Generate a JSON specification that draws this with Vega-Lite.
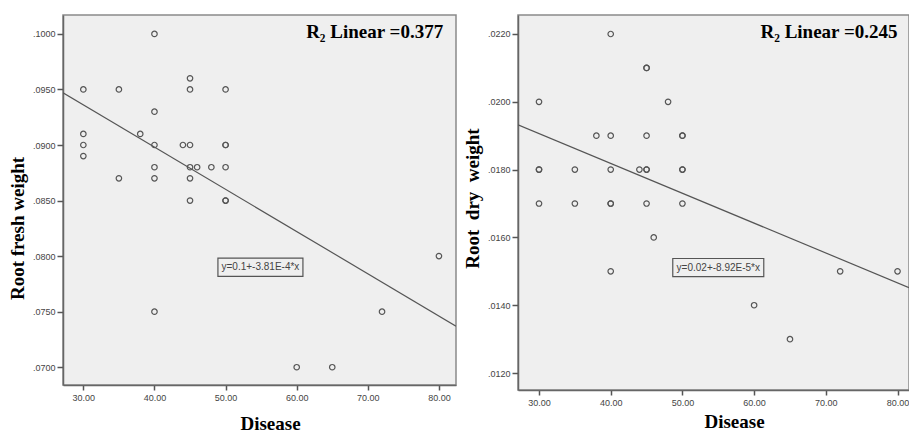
{
  "$schema": "https://vega.github.io/schema/vega-lite/v6.json",
  "background": "white",
  "padding": {"left": 7, "top": 14, "right": 0, "bottom": 0},
  "autosize": {"type": "pad"},
  "spacing": 62,
  "bounds": "flush",
  "config": {
    "view": {"fill": "#efefef", "stroke": "#8a8a8a", "strokeWidth": 1.5},
    "axis": {
      "grid": false,
      "domainColor": "#666666",
      "domainWidth": 1.5,
      "tickColor": "#555555",
      "tickWidth": 1.5,
      "labelColor": "#444444",
      "labelFont": "Liberation Sans",
      "labelFontSize": 9,
      "titleFont": "Liberation Serif",
      "titleFontSize": 19,
      "titleFontWeight": "bold",
      "titleColor": "#000000"
    }
  },
  "datasets": {
    "fresh": [
      {"disease": 30, "weight": 0.095}, {"disease": 30, "weight": 0.091}, {"disease": 30, "weight": 0.090}, {"disease": 30, "weight": 0.089},
      {"disease": 35, "weight": 0.095}, {"disease": 35, "weight": 0.087},
      {"disease": 38, "weight": 0.091},
      {"disease": 40, "weight": 0.100}, {"disease": 40, "weight": 0.093}, {"disease": 40, "weight": 0.090}, {"disease": 40, "weight": 0.088}, {"disease": 40, "weight": 0.087}, {"disease": 40, "weight": 0.075},
      {"disease": 44, "weight": 0.090},
      {"disease": 45, "weight": 0.096}, {"disease": 45, "weight": 0.095}, {"disease": 45, "weight": 0.090}, {"disease": 45, "weight": 0.088}, {"disease": 45, "weight": 0.087}, {"disease": 45, "weight": 0.085},
      {"disease": 46, "weight": 0.088},
      {"disease": 48, "weight": 0.088},
      {"disease": 50, "weight": 0.095}, {"disease": 50, "weight": 0.090}, {"disease": 50, "weight": 0.090}, {"disease": 50, "weight": 0.088}, {"disease": 50, "weight": 0.085}, {"disease": 50, "weight": 0.085},
      {"disease": 60, "weight": 0.070},
      {"disease": 65, "weight": 0.070},
      {"disease": 72, "weight": 0.075},
      {"disease": 80, "weight": 0.080}
    ],
    "dry": [
      {"disease": 30, "weight": 0.020}, {"disease": 30, "weight": 0.018}, {"disease": 30, "weight": 0.018}, {"disease": 30, "weight": 0.017},
      {"disease": 35, "weight": 0.018}, {"disease": 35, "weight": 0.017},
      {"disease": 38, "weight": 0.019},
      {"disease": 40, "weight": 0.022}, {"disease": 40, "weight": 0.019}, {"disease": 40, "weight": 0.018}, {"disease": 40, "weight": 0.017}, {"disease": 40, "weight": 0.017}, {"disease": 40, "weight": 0.015},
      {"disease": 44, "weight": 0.018},
      {"disease": 45, "weight": 0.021}, {"disease": 45, "weight": 0.021}, {"disease": 45, "weight": 0.019}, {"disease": 45, "weight": 0.018}, {"disease": 45, "weight": 0.018}, {"disease": 45, "weight": 0.017},
      {"disease": 46, "weight": 0.016},
      {"disease": 48, "weight": 0.020},
      {"disease": 50, "weight": 0.019}, {"disease": 50, "weight": 0.019}, {"disease": 50, "weight": 0.018}, {"disease": 50, "weight": 0.018}, {"disease": 50, "weight": 0.017},
      {"disease": 60, "weight": 0.014},
      {"disease": 65, "weight": 0.013},
      {"disease": 72, "weight": 0.015},
      {"disease": 80, "weight": 0.015}
    ],
    "freshLine": [{"disease": 27.14, "weight": 0.0947}, {"disease": 82.4, "weight": 0.0737}],
    "dryLine": [{"disease": 27.07, "weight": 0.01932}, {"disease": 81.6, "weight": 0.01452}],
    "freshEq": [{"disease": 54.9, "weight": 0.0790, "label": "y=0.1+-3.81E-4*x"}],
    "dryEq": [{"disease": 55.0, "weight": 0.01511, "label": "y=0.02+-8.92E-5*x"}],
    "freshR2": [{"disease": 80.6, "weight": 0.0996, "label": "R₂ Linear =0.377"}],
    "dryR2": [{"disease": 80.0, "weight": 0.02188, "label": "R₂ Linear =0.245"}]
  },
  "hconcat": [
    {
      "width": 393,
      "height": 370,
      "encoding": {
        "x": {"field": "disease", "type": "quantitative",
          "scale": {"domain": [27.14, 82.4], "nice": false, "zero": false},
          "axis": {"values": [30, 40, 50, 60, 70, 80], "format": ".2f", "title": "Disease", "tickSize": 5, "labelPadding": 3, "titlePadding": 12, "titleX": 207}},
        "y": {"field": "weight", "type": "quantitative",
          "scale": {"domain": [0.0684, 0.1017], "nice": false, "zero": false},
          "axis": {"values": [0.07, 0.075, 0.08, 0.085, 0.09, 0.095, 0.1], "labelExpr": "slice(format(datum.value, '.4f'), 1)", "title": "Root fresh weight", "tickSize": 6, "labelPadding": 2, "titlePadding": 5, "titleY": 213}}
      },
      "layer": [
        {"data": {"name": "fresh"}, "mark": {"type": "point", "shape": "circle", "filled": false, "size": 30, "stroke": "#555555", "strokeWidth": 1.2, "opacity": 1}},
        {"data": {"name": "freshLine"}, "mark": {"type": "line", "color": "#555555", "strokeWidth": 1.2, "clip": true}},
        {"data": {"name": "freshEq"}, "mark": {"type": "point", "shape": "M-1,-0.215H1V0.215H-1Z", "filled": false, "size": 7225, "stroke": "#555555", "strokeWidth": 1.2, "opacity": 1}},
        {"data": {"name": "freshEq"}, "mark": {"type": "text", "font": "Liberation Sans", "fontSize": 10, "color": "#444444"}, "encoding": {"text": {"field": "label"}}},
        {"data": {"name": "freshR2"}, "mark": {"type": "text", "font": "Liberation Serif", "fontSize": 19, "fontWeight": "bold", "align": "right", "baseline": "alphabetic", "color": "#000000"}, "encoding": {"text": {"field": "label"}}}
      ]
    },
    {
      "width": 391,
      "height": 375,
      "encoding": {
        "x": {"field": "disease", "type": "quantitative",
          "scale": {"domain": [27.07, 81.6], "nice": false, "zero": false},
          "axis": {"values": [30, 40, 50, 60, 70, 80], "format": ".2f", "title": "Disease", "tickSize": 5, "labelPadding": 3, "titlePadding": 5, "titleX": 216}},
        "y": {"field": "weight", "type": "quantitative",
          "scale": {"domain": [0.0115, 0.02256], "nice": false, "zero": false},
          "axis": {"values": [0.012, 0.014, 0.016, 0.018, 0.02, 0.022], "labelExpr": "slice(format(datum.value, '.4f'), 1)", "title": "Root\u00a0 dry\u00a0 weight", "tickSize": 6, "labelPadding": 2, "titlePadding": 5, "titleY": 183}}
      },
      "layer": [
        {"data": {"name": "dry"}, "mark": {"type": "point", "shape": "circle", "filled": false, "size": 30, "stroke": "#555555", "strokeWidth": 1.2, "opacity": 1}},
        {"data": {"name": "dryLine"}, "mark": {"type": "line", "color": "#555555", "strokeWidth": 1.2, "clip": true}},
        {"data": {"name": "dryEq"}, "mark": {"type": "point", "shape": "M-1,-0.2H1V0.2H-1Z", "filled": false, "size": 8281, "stroke": "#555555", "strokeWidth": 1.2, "opacity": 1}},
        {"data": {"name": "dryEq"}, "mark": {"type": "text", "font": "Liberation Sans", "fontSize": 10, "color": "#444444"}, "encoding": {"text": {"field": "label"}}},
        {"data": {"name": "dryR2"}, "mark": {"type": "text", "font": "Liberation Serif", "fontSize": 19, "fontWeight": "bold", "align": "right", "baseline": "alphabetic", "color": "#000000"}, "encoding": {"text": {"field": "label"}}}
      ]
    }
  ]
}
